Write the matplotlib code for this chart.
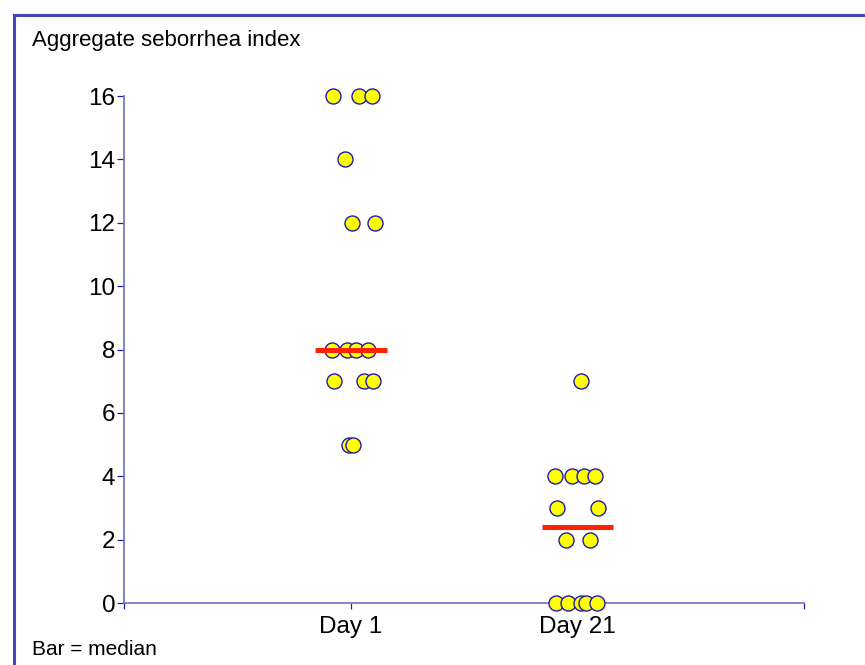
import matplotlib
matplotlib.use("Agg")
import matplotlib.pyplot as plt
from matplotlib.patches import Rectangle

plt.rcParams["font.family"] = ["Liberation Sans", "DejaVu Sans"]

# data
categorias = ["Day 1", "Day 21"]
posicoes = [1, 2]

dia1_valores = [16, 16, 16, 14, 12, 12, 8, 8, 8, 8, 7, 7, 7, 5, 5]
dia1_jitter = [-0.080, 0.034, 0.093, -0.026, 0.004, 0.108,
               -0.085, -0.017, 0.023, 0.074, -0.076, 0.056, 0.099,
               -0.007, 0.008]

dia21_valores = [7, 4, 4, 4, 4, 3, 3, 2, 2, 0, 0, 0, 0, 0]
dia21_jitter = [0.014, -0.099, -0.024, 0.029, 0.077, -0.090, 0.089,
                -0.052, 0.055, -0.095, -0.042, 0.015, 0.037, 0.086]

medianas = [8, 2.4]

cor_eixo = "#6e6ec8"
cor_tick = "#20209a"
cor_borda = "#4646b4"

fig = plt.figure(figsize=(8.65, 6.65), dpi=100)
ax = fig.add_axes([0.1439, 0.0932, 0.7855, 0.7624])

grupos = [(dia1_valores, dia1_jitter), (dia21_valores, dia21_jitter)]
for pos, (valores, jitter) in zip(posicoes, grupos):
    xs = [pos + j for j in jitter]
    ax.plot(xs, valores, linestyle="none", marker="o", markersize=10.8,
            markerfacecolor="#ffff00", markeredgecolor="#1c1ca8",
            markeredgewidth=1.0, clip_on=False, zorder=3)

for pos, med in zip(posicoes, medianas):
    ax.plot([pos - 0.157, pos + 0.157], [med, med], color="#ff2200",
            linewidth=3.6, solid_capstyle="butt", zorder=4, clip_on=False)

ax.set_xlim(0, 3)
ax.set_ylim(0, 16)
ax.set_xticks([0, *posicoes, 3], ["", *categorias, ""])
ax.set_yticks(range(0, 17, 2))

for lado in ["top", "right"]:
    ax.spines[lado].set_visible(False)
for lado in ["left", "bottom"]:
    ax.spines[lado].set_color(cor_eixo)
    ax.spines[lado].set_linewidth(1.2)

ax.tick_params(axis="y", direction="out", length=5, width=0.9,
               color=cor_tick, labelsize=17.5, pad=1.5)
ax.tick_params(axis="x", direction="out", length=4.5, width=0.9,
               color=cor_tick, labelsize=17.5, pad=4.5)
ax.set_facecolor("white")

fig.text(32 / 865, 1 - 46 / 665, "Aggregate seborrhea index", fontsize=16,
         ha="left", va="baseline")
fig.text(32 / 865, 1 - 655 / 665, "Bar = median", fontsize=15,
         ha="left", va="baseline")

# moldura azul (sai pela direita e por baixo)
moldura = Rectangle((14 / 865, -0.1), 1.2, 1 - 14.5 / 665 + 0.1,
                    transform=fig.transFigure, fill=False,
                    edgecolor=cor_borda, linewidth=2.2, clip_on=False)
fig.patches.append(moldura)

fig.savefig("out.png", dpi=100)
